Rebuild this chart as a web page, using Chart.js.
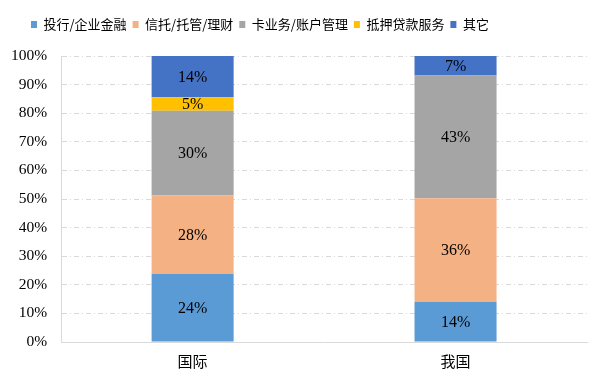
<!DOCTYPE html>
<html>
<head>
<meta charset="utf-8">
<script src="https://cdn.jsdelivr.net/npm/chart.js@4"></script>
<style>
  body { margin: 0; background: #fff; }
  #wrap { width: 608px; height: 385px; }
</style>
</head>
<body>
<div id="wrap"><canvas id="chart"></canvas></div>
<script>
// categories (x axis)
var regions = ["国际", "我国"];
// series names (legend)
var seriesNames = ["投行/企业金融", "信托/托管/理财", "卡业务/账户管理", "抵押贷款服务", "其它"];
// series values, one per region (percent)
var touhang = [23.8, 14.1];
var xintuo = [27.5, 36.2];
var kayewu = [29.6, 42.9];
var diya = [4.7, 0];
var qita = [14.4, 6.8];
var colors = ["#5B9BD5", "#F4B183", "#A5A5A5", "#FFC000", "#4472C4"];

var allValues = [touhang, xintuo, kayewu, diya, qita];

// labels in the middle of each segment
var segLabels = {
  id: "segLabels",
  afterDatasetsDraw: function (chart) {
    var ctx = chart.ctx;
    ctx.save();
    ctx.font = "16px 'Liberation Serif'";
    ctx.fillStyle = "#000";
    ctx.textAlign = "center";
    ctx.textBaseline = "middle";
    chart.data.datasets.forEach(function (ds, i) {
      var meta = chart.getDatasetMeta(i);
      meta.data.forEach(function (bar, j) {
        var v = ds.data[j];
        if (!v) return;
        ctx.fillText(Math.round(v) + "%", bar.x, (bar.y + bar.base) / 2 + 1);
      });
    });
    ctx.restore();
  }
};

// more room under the legend, and move it a bit to the left
var legendSpace = {
  id: "legendSpace",
  beforeInit: function (chart) {
    var fit = chart.legend.fit;
    chart.legend.fit = function () {
      fit.bind(chart.legend)();
      this.height += 15;
    };
  },
  afterLayout: function (chart) {
    var lg = chart.legend;
    var dx = 31 - (lg.left + lg.options.labels.padding);
    lg.left += dx;
    lg.right += dx;
  }
};

var ctx = document.getElementById("chart");
var myChart = new Chart(ctx, {
  type: "bar",
  data: {
    labels: regions,
    datasets: seriesNames.map(function (name, i) {
      return {
        label: name,
        data: allValues[i],
        backgroundColor: colors[i],
        borderWidth: 0,
        barPercentage: 0.312,
        categoryPercentage: 1
      };
    })
  },
  options: {
    responsive: true,
    maintainAspectRatio: false,
    animation: false,
    layout: { padding: { left: -3, right: 21, top: 12, bottom: 13 } },
    plugins: {
      tooltip: { enabled: false },
      legend: {
        position: "top",
        align: "start",
        labels: {
          boxWidth: 6,
          boxHeight: 7,
          padding: 6,
          color: "#000",
          font: { family: "'Noto Sans CJK SC'", size: 13 }
        }
      }
    },
    scales: {
      x: {
        stacked: true,
        grid: { display: false },
        border: { display: true, color: "#D9D9D9", width: 1 },
        ticks: {
          color: "#000",
          padding: 2,
          font: { family: "'Noto Sans CJK SC'", size: 15 }
        }
      },
      y: {
        stacked: true,
        min: 0,
        max: 100,
        grid: { color: "#D9D9D9", drawTicks: false },
        border: { display: true, color: "#D9D9D9", width: 1, dash: [5, 3, 1, 3] },
        ticks: {
          stepSize: 10,
          padding: 14,
          color: "#000",
          font: { family: "'Liberation Serif'", size: 15.5 },
          callback: function (v) { return v + "%"; }
        }
      }
    }
  },
  plugins: [segLabels, legendSpace]
});
</script>
</body>
</html>
